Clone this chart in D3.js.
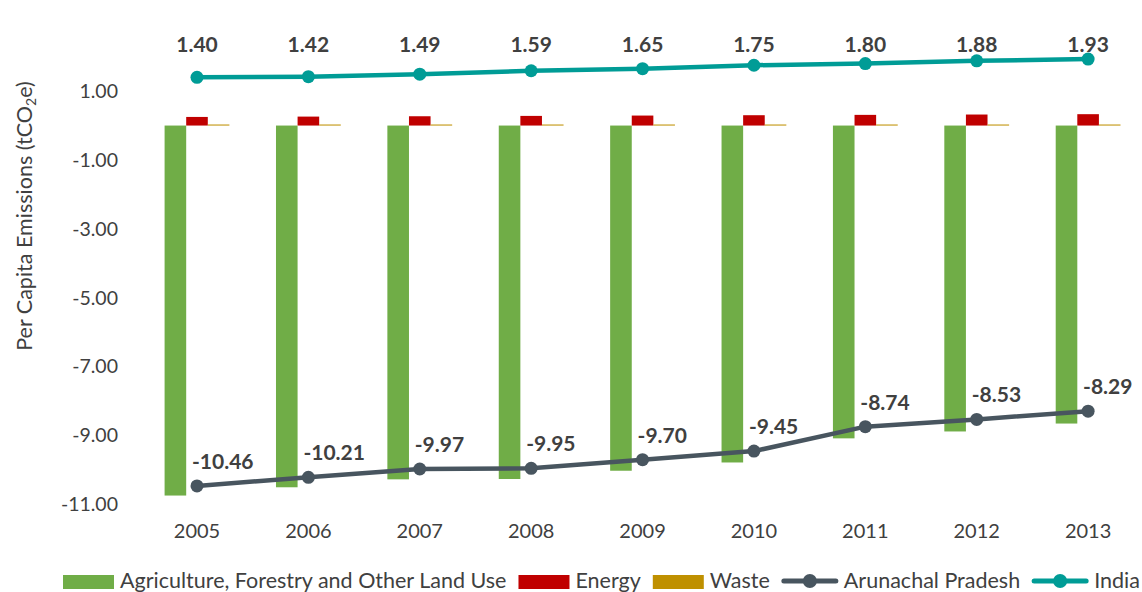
<!DOCTYPE html>
<html><head><meta charset="utf-8">
<script src="https://cdnjs.cloudflare.com/ajax/libs/d3/7.8.5/d3.min.js"></script>
<style>body{margin:0;background:#fff}svg{display:block;font-family:Lato,"Open Sans",sans-serif}</style>
</head><body><svg id="c" width="1142" height="592"></svg>
<script>
const years = ["2005","2006","2007","2008","2009","2010","2011","2012","2013"];
const afolu = [-10.74,-10.50,-10.27,-10.26,-10.02,-9.78,-9.08,-8.88,-8.65];
const energy = [0.25,0.26,0.27,0.28,0.29,0.30,0.31,0.32,0.33];
const waste = [0.03,0.03,0.03,0.03,0.03,0.03,0.03,0.03,0.03];
const arunachal = [-10.46,-10.21,-9.97,-9.95,-9.70,-9.45,-8.74,-8.53,-8.29];
const india = [1.40,1.42,1.49,1.59,1.65,1.75,1.80,1.88,1.93];
const yTicks = [1,-1,-3,-5,-7,-9,-11];

const svg = d3.select("#c");
const x = d3.scaleBand().domain(years).range([141.3, 1143.8]);
const y = d3.scaleLinear().domain([-11, 1]).range([504.5, 91.1]);
const txt = "#404040";
const cGreen="#70AD47", cRed="#C00000", cWaste="#BF9000", cAP="#48555F", cIN="#009C96";
const fmt = d => d.toFixed(2);

// y axis ticks
svg.append("g").attr("transform","translate(118,0)")
  .call(d3.axisLeft(y).tickValues(yTicks).tickFormat(fmt).tickSize(0).tickPadding(0))
  .call(g=>g.select(".domain").remove())
  .selectAll("text").attr("font-size",19.5).attr("fill",txt).attr("font-family","Lato");
// x axis
svg.append("g").attr("transform","translate(0,524)")
  .call(d3.axisBottom(x).tickSize(0).tickPadding(0))
  .call(g=>g.select(".domain").remove())
  .selectAll("text").attr("font-size",20).attr("fill",txt).attr("font-family","Lato");

// y axis title
const yt = svg.append("text").attr("transform","translate(32,216) rotate(-90)")
  .attr("text-anchor","middle").attr("font-size",21.5).attr("fill",txt);
yt.append("tspan").text("Per Capita Emissions (tCO");
yt.append("tspan").text("2").attr("font-size",14).attr("dy",4);
yt.append("tspan").text("e)").attr("dy",-4);

const bw = 21.6;
const series = [{v:afolu,c:cGreen,o:-1.5},{v:energy,c:cRed,o:-0.5},{v:waste,c:cWaste,o:0.5}];
series.forEach(s=>{
  svg.append("g").selectAll("rect").data(years).join("rect")
    .attr("x",d=>x(d)+x.bandwidth()/2+s.o*bw)
    .attr("width",bw)
    .attr("y",(d,i)=>y(Math.max(0,s.v[i])))
    .attr("height",(d,i)=>Math.abs(y(s.v[i])-y(0)))
    .attr("fill",s.c);
});

function lineSeries(vals,color){
  const line = d3.line().x((d,i)=>x(years[i])+x.bandwidth()/2).y(d=>y(d));
  svg.append("path").datum(vals).attr("d",line).attr("fill","none").attr("stroke",color).attr("stroke-width",4.5).attr("stroke-linejoin","round");
  svg.append("g").selectAll("circle").data(vals).join("circle")
    .attr("cx",(d,i)=>x(years[i])+x.bandwidth()/2).attr("cy",d=>y(d)).attr("r",6.5).attr("fill",color);
}
lineSeries(arunachal,cAP);
lineSeries(india,cIN);

// labels
svg.append("g").selectAll("text").data(india).join("text")
  .attr("x",(d,i)=>x(years[i])+x.bandwidth()/2).attr("y",52)
  .attr("text-anchor","middle").attr("font-size",21).attr("font-weight","bold").attr("fill",txt)
  .text(fmt);
svg.append("g").selectAll("text").data(arunachal).join("text")
  .attr("x",(d,i)=>x(years[i])+x.bandwidth()/2-5).attr("y",d=>y(d)-17)
  .attr("text-anchor","start").attr("font-size",21).attr("font-weight","bold").attr("fill",txt)
  .text(fmt);

// legend
const legItems = [
  {t:"Agriculture, Forestry and Other Land Use",c:cGreen,k:"rect"},
  {t:"Energy",c:cRed,k:"rect"},
  {t:"Waste",c:cWaste,k:"rect"},
  {t:"Arunachal Pradesh",c:cAP,k:"line"},
  {t:"India",c:cIN,k:"line"}];
const lg = svg.append("g");
let lx = 63;
legItems.forEach(it=>{
  if(it.k==="rect"){
    lg.append("rect").attr("x",lx).attr("y",575).attr("width",51).attr("height",14).attr("fill",it.c);
  } else {
    lg.append("line").attr("x1",lx+2).attr("x2",lx+54).attr("y1",581).attr("y2",581).attr("stroke",it.c).attr("stroke-width",5).attr("stroke-linecap","round");
    lg.append("circle").attr("cx",lx+28).attr("cy",581).attr("r",7).attr("fill",it.c);
  }
  const w0 = it.k==="rect"?51:56;
  const t = lg.append("text").attr("x",lx+w0+6).attr("y",587.5).attr("font-size",21.5).attr("fill",txt).text(it.t);
  lx += w0+6+t.node().getComputedTextLength()+12;
});
</script></body></html>
